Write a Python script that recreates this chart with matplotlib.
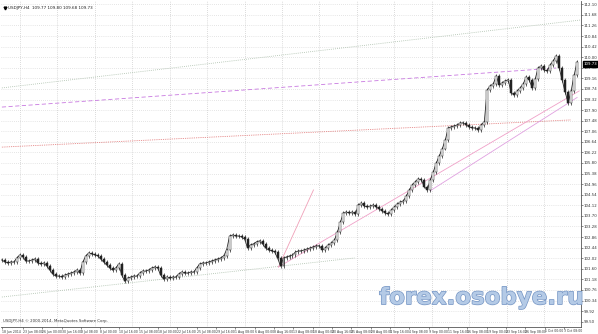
import matplotlib
matplotlib.use("Agg")
import matplotlib.pyplot as plt
import matplotlib.patheffects as pe
import numpy as np

# ---- data (closing prices sampled along the chart, left to right) ----
closes = [
    101.95, 101.87, 101.83, 101.87, 101.87, 102.03, 102.15, 102.07, 101.91, 101.91,
    101.95, 101.99, 101.83, 101.79, 101.83, 101.71, 101.55, 101.39, 101.31, 101.31,
    101.27, 101.35, 101.39, 101.43, 101.47, 101.55, 101.43, 101.87, 102.11, 102.23,
    102.19, 102.15, 102.11, 101.99, 101.87, 101.75, 101.63, 101.55, 101.63, 101.79,
    101.35, 101.11, 101.23, 101.27, 101.31, 101.31, 101.43, 101.51, 101.51, 101.55,
    101.63, 101.67, 101.63, 101.35, 101.19, 101.27, 101.23, 101.27, 101.27, 101.39,
    101.47, 101.43, 101.43, 101.47, 101.47, 101.63, 101.79, 101.83, 101.83, 101.87,
    101.91, 101.95, 101.99, 102.03, 102.11, 102.35, 102.90, 102.94, 102.90, 102.90,
    102.86, 102.78, 102.43, 102.55, 102.59, 102.67, 102.71, 102.59, 102.43, 102.35,
    102.31, 102.27, 102.03, 101.71, 102.03, 102.07, 102.11, 102.15, 102.27, 102.31,
    102.31, 102.35, 102.39, 102.43, 102.47, 102.51, 102.51, 102.35, 102.43, 102.55,
    102.62, 102.74, 103.06, 103.46, 103.81, 103.85, 103.81, 103.85, 103.77, 104.13,
    104.21, 104.09, 104.05, 104.09, 104.13, 104.05, 103.97, 103.89, 103.81, 103.77,
    103.93, 104.05, 104.17, 104.25, 104.29, 104.49, 104.73, 104.93, 105.05, 105.17,
    105.13, 104.86, 104.73, 105.13, 105.45, 105.80, 106.08, 106.37, 106.72, 107.19,
    107.23, 107.27, 107.31, 107.39, 107.39, 107.31, 107.23, 107.19, 107.19, 107.11,
    107.31, 107.43, 108.70, 108.86, 108.94, 109.25, 108.90, 108.98, 109.06, 109.10,
    108.58, 108.50, 108.66, 108.78, 108.94, 109.21, 109.10, 108.78, 109.14, 109.57,
    109.65, 109.49, 109.45, 109.69, 109.85, 110.05, 109.57, 109.10, 108.62, 108.18,
    108.66, 109.29, 109.81,
]

date_labels = [
    "18 Jun 2014", "23 Jun 08:00", "26 Jun 00:00", "30 Jun 16:00", "3 Jul 08:00",
    "8 Jul 00:00", "10 Jul 16:00", "15 Jul 08:00", "18 Jul 00:00", "22 Jul 16:00",
    "25 Jul 08:00", "29 Jul 16:00", "1 Aug 08:00", "6 Aug 00:00", "8 Aug 16:00",
    "13 Aug 08:00", "18 Aug 00:00", "20 Aug 16:00", "25 Aug 08:00", "28 Aug 00:00",
    "1 Sep 16:00", "4 Sep 08:00", "9 Sep 00:00", "11 Sep 16:00", "16 Sep 08:00",
    "19 Sep 00:00", "23 Sep 16:00", "26 Sep 08:00", "1 Oct 00:00", "3 Oct 08:00",
]

price_labels = [99.50, 99.92, 100.34, 100.76, 101.18, 101.60, 102.02, 102.44, 102.86,
                103.28, 103.70, 104.12, 104.54, 104.96, 105.38, 105.80, 106.22, 106.64,
                107.06, 107.48, 107.90, 108.32, 108.74, 109.16, 109.58, 110.00, 110.42,
                110.84, 111.26, 111.68, 112.10]

last_price = 109.73
header = "USDJPY,H4  109.77 109.80 109.68 109.73"
footer = "USDJPY,H4 \u00a9 2000-2014, MetaQuotes Software Corp."
watermark = "forex.osobye.ru"

# trend lines: (x0, p0, x1, p1, color, style)
trend_lines = [
    (0.0, 100.48, 117.7, 102.03, "#a8bca8", (0, (1, 1.5))),
    (0.0, 108.78, 193.5, 111.48, "#a8bca8", (0, (1, 1.5))),
    (0.0, 108.02, 185.0, 109.57, "#c878e0", (0, (5, 3))),
    (0.0, 106.43, 190.0, 107.51, "#e07070", (0, (1, 1.2))),
    (92.3, 101.67, 104.0, 104.73, "#f0a0b8", "-"),
    (92.3, 101.67, 192.7, 108.66, "#f0a0c8", "-"),
    (143.0, 104.70, 192.0, 108.40, "#e0a0e0", "-"),
]

# ---- figure ----
W, H = 598, 334
fig = plt.figure(figsize=(W / 100, H / 100), dpi=100)
fig.patch.set_facecolor("white")
ax = fig.add_axes([1 / W, 7 / H, 580 / W, 326 / H])
ax.set_facecolor("white")

ymin, ymax = 99.29, 112.23
ax.set_xlim(-0.3, 193.3)
ax.set_ylim(ymin, ymax)

# grid
for p in price_labels:
    ax.axhline(p, color="#cccccc", lw=0.5, ls=(0, (1, 2)), zorder=0)
grid_pos = [6 + 12.5 * k for k in range(16)]
for g in grid_pos:
    ax.axvline(g, color="#bbbbbb", lw=0.5, ls=(0, (1, 2)), zorder=0)

# trend lines
for x0, p0, x1, p1, c, ls in trend_lines:
    ax.plot([x0, x1], [p0, p1], color=c, lw=0.6, ls=ls, zorder=1)

# candles from consecutive closes
x = np.arange(len(closes))
ax.plot(x, closes, color="#333333", lw=0.6, zorder=2)
opens = [closes[0]] + closes[:-1]
for i, (o, c) in enumerate(zip(opens, closes)):
    lo, hi = min(o, c), max(o, c)
    ax.vlines(i, lo - 0.07, hi + 0.07, color="#222222", lw=0.5, zorder=2)
    fc = "white" if c >= o else "#222222"
    ax.add_patch(plt.Rectangle((i - 0.33, lo), 0.66, max(hi - lo, 0.012),
                               facecolor=fc, edgecolor="#222222", lw=0.35, zorder=3))

# axes styling
for s in ["top", "left"]:
    ax.spines[s].set_visible(False)
ax.spines["right"].set_color("#555555")
ax.spines["bottom"].set_color("#555555")
ax.spines["right"].set_linewidth(0.6)
ax.spines["bottom"].set_linewidth(0.6)
ax.yaxis.tick_right()
ax.set_yticks(price_labels)
ax.set_yticklabels([f"{p:.2f}" for p in price_labels])
ax.tick_params(axis="y", labelsize=2.8, length=1.2, width=0.4, pad=0.6, colors="#333333")
label_pos = [0.2] + [7 + 6.45 * k for k in range(len(date_labels) - 1)]
ax.set_xticks(label_pos)
ax.set_xticklabels(date_labels, ha="left")
ax.tick_params(axis="x", labelsize=2.25, length=1.2, width=0.4, pad=0.6, colors="#333333")

# current price marker
ax.text(1.004, last_price, f"{last_price:.2f}", transform=ax.get_yaxis_transform(),
        fontsize=2.8, color="white", va="center", ha="left",
        bbox=dict(boxstyle="square,pad=0.15", fc="black", ec="black"), zorder=10, clip_on=False)

# header / footer
ax.plot([1.2], [111.95], marker="v", ms=2, color="black")
ax.text(0.012, 0.985, header, transform=ax.transAxes, fontsize=3.0, va="top", ha="left", color="#222222")
ax.text(0.004, 0.012, footer, transform=ax.transAxes, fontsize=2.8, va="bottom", ha="left", color="#333333")

# watermark (kept inside the plot area)
ax.text(0.828, 0.07, watermark, transform=ax.transAxes, fontsize=16.5, fontweight="bold",
        color="#b4cae6", ha="center", va="baseline", family="DejaVu Sans",
        path_effects=[pe.withStroke(linewidth=1.0, foreground="#7595c4")], zorder=20)

fig.savefig("out.png", dpi=100, facecolor="white")
